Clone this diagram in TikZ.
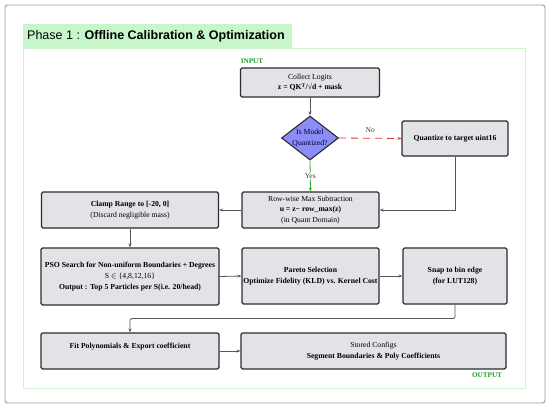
\documentclass[tikz,border=0pt]{standalone}
\usepackage{fontspec}
\setmainfont{Liberation Serif}
\newfontfamily\titlefont{Liberation Sans}
\usetikzlibrary{shapes.geometric,arrows.meta}

\definecolor{boxgray}{HTML}{E1E3E7}
\definecolor{boxline}{HTML}{2B2B2B}
\definecolor{titlegreen}{HTML}{C8F6CB}
\definecolor{framegreen}{HTML}{CDF3D0}
\definecolor{labgreen}{HTML}{1E9E2A}
\definecolor{diafill}{HTML}{8C8CF8}
\definecolor{linegray}{HTML}{555555}
\definecolor{noRed}{HTML}{E8312C}
\definecolor{yesGreen}{HTML}{22B02E}

\tikzset{
  procbox/.style={draw=boxline, line width=1.1pt, fill=boxgray, rounded corners=1.5pt,
    align=center, inner sep=0pt, font=\fontsize{7.7}{10.8}\selectfont},
  decision/.style={diamond, draw=boxline, line width=1.1pt, fill=diafill, inner sep=0pt,
    minimum width=57pt, minimum height=44pt},
  flow/.style={draw=linegray, line width=0.8pt, -{Stealth[length=4pt,width=3pt]}},
  tag/.style={text=labgreen, font=\fontsize{7.2}{9}\selectfont\bfseries},
  branch/.style={text=black!75, font=\fontsize{7.5}{9}\selectfont},
}

\begin{document}
\begin{tikzpicture}[x=1pt,y=-1pt]
        \useasboundingbox (0,0) rectangle (550,408);
        % Cornice esterna
        \draw[black!40, line width=0.9pt, rounded corners=2.5pt] (5,5) rectangle (545,403);
        % Titolo
        \fill[titlegreen] (23,24) rectangle (292,48);
        \node[anchor=west, inner sep=0pt, font=\titlefont\fontsize{12.5}{14}\selectfont] (title) at (27,36.5)
            {Phase 1 : \textbf{Offline Calibration \& Optimization}};
        \draw[framegreen, line width=0.7pt] (23,48) rectangle (525,388);

        \node[tag] (input) at (252,61) {INPUT};
        \node[tag] (output) at (487,375) {OUTPUT};

        % Blocchi
        \node[procbox, minimum width=139pt, minimum height=29pt] (collect) at (310,82.5)
            {Collect Logits\\ \textbf{z = QK\textsuperscript{T}/√d + mask}};
        \node[decision] (quant) at (310,138) {};
        \node[align=center, inner sep=0pt, text=black!80!blue, font=\fontsize{7.7}{10.8}\selectfont] (quanttext) at (quant)
            {Is Model\\Quantized?};
        \node[procbox, minimum width=106pt, minimum height=35pt] (quantize) at (455,138.5)
            {\textbf{Quantize to target uint16}};
        \node[procbox, minimum width=137pt, minimum height=36pt] (rowwise) at (310.5,210)
            {Row-wise Max Subtraction\\ \textbf{u = z− row\_max(z)}\\ (in Quant Domain)};
        \node[procbox, minimum width=177pt, minimum height=36pt] (clamp) at (130,210)
            {\textbf{Clamp Range to [-20, 0]}\\ (Discard negligible mass)};
        \node[procbox, minimum width=178pt, minimum height=57pt] (pso) at (130,276.5)
            {\textbf{PSO Search for Non-uniform Boundaries + Degrees}\\
             S $\in$ \{4,8,12,16\}\\ \textbf{Output : Top 5 Particles per S(i.e. 20/head)}};
        \node[procbox, minimum width=137pt, minimum height=56pt] (pareto) at (310.5,276)
            {\textbf{Pareto Selection}\\ \textbf{Optimize Fidelity (KLD) vs. Kernel Cost}};
        \node[procbox, minimum width=104pt, minimum height=56pt] (snap) at (455,276)
            {\textbf{Snap to bin edge}\\ \textbf{(for LUT128)}};
        \node[procbox, minimum width=178pt, minimum height=36pt] (fit) at (130,351)
            {\textbf{Fit Polynomials \& Export coefficient}\\ \mbox{}};
        \node[procbox, minimum width=265pt, minimum height=36pt] (stored) at (373.5,351)
            {Stored Configs\\ \textbf{Segment Boundaries \& Poly Coefficients}};

        % Frecce
        \draw[flow] (collect) -- (quant);
        \draw[flow, draw=noRed, dash pattern=on 7pt off 5pt] (quant.east) -- (quantize.west)
            node[branch, midway, above=2pt] (no) {No};
        \draw[flow, draw=yesGreen] (quant.south) -- (rowwise.north)
            node[branch, midway, fill=white, inner sep=1pt] (yes) {Yes};
        \draw[flow] (quantize.south) |- (rowwise.east);
        \draw[flow] (rowwise.west) -- (clamp.east);
        \draw[flow] (clamp) -- (pso);
        \draw[flow] (pso.east) -- (pareto.west);
        \draw[flow] (pareto.east) -- (snap.west);
        \draw[flow, rounded corners=2pt] (snap.south) -- ++(0,14) -| (fit.north);
        \draw[flow] (fit.east) -- (stored.west);
    \end{tikzpicture}
\end{document}
